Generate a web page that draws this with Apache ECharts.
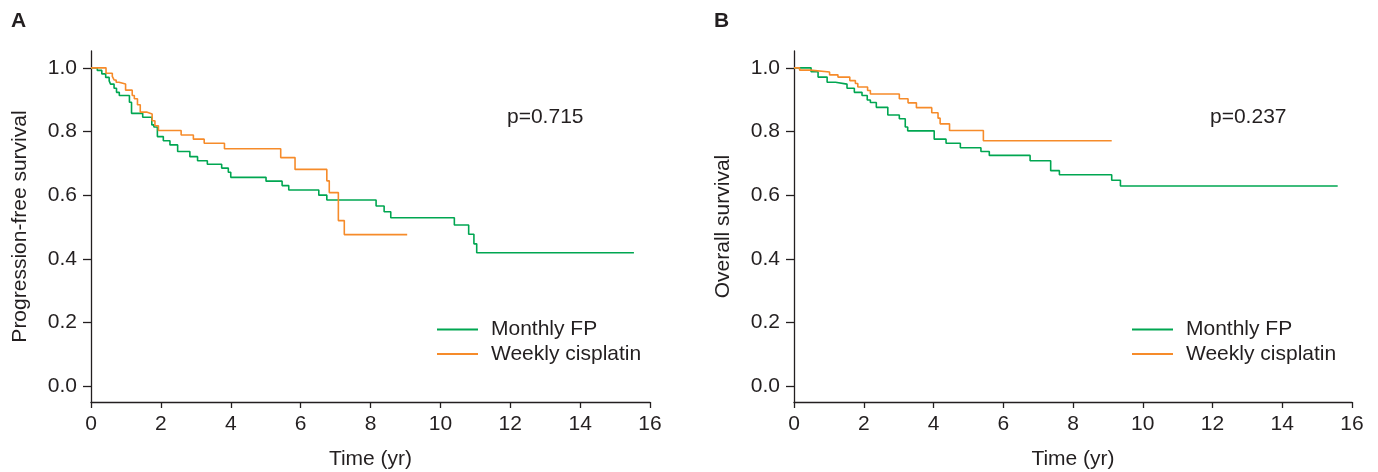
<!DOCTYPE html>
<html>
<head>
<meta charset="utf-8">
<script src="https://cdn.jsdelivr.net/npm/echarts@6/dist/echarts.min.js"></script>
<style>
    html, body { margin: 0; padding: 0; background: #fff; }
    #chart { width: 1378px; height: 472px; }
</style>
</head>
<body>
<div id="chart"></div>
<script>
/* data */
const seriesNames = ['Monthly FP', 'Weekly cisplatin'];
const yTicks = [0, 0.2, 0.4, 0.6, 0.8, 1.0];
const pValues = ['p=0.715', 'p=0.237'];

// A: progression-free survival
const pfsFpTime = [0, 0.18, 0.31, 0.42, 0.52, 0.56, 0.66, 0.73, 0.81, 1.10, 1.16, 1.48, 1.74, 1.80, 1.90, 2.07, 2.26, 2.48, 2.83, 3.05, 3.33, 3.74, 3.93, 4.00, 5.01, 5.47, 5.66, 6.52, 6.75, 8.16, 8.39, 8.58, 10.40, 10.81, 10.96, 11.04, 15.54];
const pfsFpSurv = [1.0, 0.992, 0.981, 0.970, 0.959, 0.949, 0.936, 0.923, 0.913, 0.892, 0.857, 0.845, 0.821, 0.814, 0.784, 0.771, 0.758, 0.737, 0.721, 0.708, 0.697, 0.685, 0.672, 0.656, 0.644, 0.630, 0.616, 0.600, 0.585, 0.566, 0.548, 0.529, 0.506, 0.477, 0.447, 0.419, 0.419];
const pfsCisTime = [0, 0.43, 0.61, 0.66, 0.72, 0.80, 0.99, 1.18, 1.24, 1.33, 1.41, 1.59, 1.75, 1.83, 1.93, 2.58, 2.93, 3.24, 3.82, 5.43, 5.84, 6.75, 6.82, 7.08, 7.25, 9.05];
const pfsCisSurv = [1.0, 0.983, 0.973, 0.962, 0.955, 0.949, 0.930, 0.913, 0.903, 0.884, 0.861, 0.855, 0.834, 0.818, 0.803, 0.789, 0.776, 0.763, 0.746, 0.718, 0.681, 0.645, 0.608, 0.520, 0.476, 0.476];

// B: overall survival
const osFpTime = [0, 0.49, 0.69, 0.95, 1.19, 1.52, 1.73, 1.95, 2.10, 2.19, 2.36, 2.69, 3.02, 3.19, 3.26, 4.02, 4.36, 4.77, 5.36, 5.60, 6.77, 7.36, 7.61, 9.11, 9.36, 15.59];
const osFpSurv = [1.0, 0.988, 0.971, 0.955, 0.949, 0.936, 0.923, 0.913, 0.899, 0.891, 0.876, 0.852, 0.840, 0.814, 0.802, 0.776, 0.763, 0.749, 0.737, 0.725, 0.708, 0.677, 0.664, 0.647, 0.629, 0.629];
const osCisTime = [0, 0.16, 0.47, 1.02, 1.26, 1.60, 1.76, 1.83, 2.11, 2.19, 3.02, 3.27, 3.51, 3.95, 4.13, 4.19, 4.46, 5.43, 9.11];
const osCisSurv = [1.0, 0.993, 0.987, 0.978, 0.971, 0.960, 0.951, 0.940, 0.929, 0.918, 0.903, 0.890, 0.875, 0.859, 0.842, 0.824, 0.803, 0.771, 0.771];

const GREEN = '#00a651';
const ORANGE = '#f68b2a';
const INK = '#231f20';
const FONT = '"Liberation Sans", Arial, sans-serif';
const FS = 21;

function pairs(t, s) {
    return t.map((x, i) => [x, s[i]]);
}

function xAxisFor(gridIndex) {
    return {
        type: 'value', gridIndex, min: 0, max: 16, interval: 2,
        name: 'Time (yr)', nameLocation: 'middle', nameGap: 47,
        nameTextStyle: { color: INK, fontSize: FS, fontFamily: FONT },
        splitLine: { show: false },
        axisLine: { onZero: false, lineStyle: { color: INK, width: 1.3 } },
        axisTick: { length: 6, lineStyle: { color: INK, width: 1.3 } },
        axisLabel: { color: INK, fontSize: FS, fontFamily: FONT, margin: 12 },
    };
}

function yAxisFor(gridIndex, name) {
    return {
        type: 'value', gridIndex, min: -0.05, max: 1.053,
        name, nameLocation: 'middle', nameGap: 60,
        nameTextStyle: { color: INK, fontSize: FS, fontFamily: FONT },
        splitLine: { show: false },
        axisLine: { onZero: false, lineStyle: { color: INK, width: 1.3 } },
        axisTick: { length: 8, customValues: yTicks, lineStyle: { color: INK, width: 1.3 } },
        axisLabel: {
            color: INK, fontSize: FS, fontFamily: FONT, margin: 14,
            customValues: yTicks, formatter: v => v.toFixed(1),
        },
    };
}

function stepSeries(name, color, idx, t, s) {
    return {
        type: 'line', name, step: 'end', xAxisIndex: idx, yAxisIndex: idx,
        symbol: 'none', silent: true, animation: false,
        lineStyle: { color, width: 1.6 }, itemStyle: { color },
        data: pairs(t, s),
    };
}

// plain line swatch in the legend, no dot
function legendFor(left) {
    return {
        left, top: 314, orient: 'vertical', icon: 'rect', itemWidth: 41, itemHeight: 2, itemGap: 3.5,
        data: seriesNames,
        textStyle: { color: INK, fontSize: FS, fontFamily: FONT, padding: [0, 0, 0, 8] },
        selectedMode: false,
    };
}

const chart = echarts.init(document.getElementById('chart'));
chart.setOption({
    backgroundColor: '#fff',
    animation: false,
    // keep the plot boxes fixed, names may sit near the page edge
    grid: [
        { left: 91, right: 728, top: 51, bottom: 70, outerBoundsMode: 'none' },
        { left: 794, right: 26, top: 51, bottom: 70, outerBoundsMode: 'none' },
    ],
    xAxis: [xAxisFor(0), xAxisFor(1)],
    yAxis: [yAxisFor(0, 'Progression-free survival'), yAxisFor(1, 'Overall survival')],
    legend: [legendFor(432), legendFor(1127)],
    series: [
        stepSeries(seriesNames[0], GREEN, 0, pfsFpTime, pfsFpSurv),
        stepSeries(seriesNames[1], ORANGE, 0, pfsCisTime, pfsCisSurv),
        stepSeries(seriesNames[0], GREEN, 1, osFpTime, osFpSurv),
        stepSeries(seriesNames[1], ORANGE, 1, osCisTime, osCisSurv),
    ],
    graphic: [
        { type: 'text', left: 11, top: 11, style: { text: 'A', fill: INK, font: 'bold 21px ' + FONT } },
        { type: 'text', left: 714, top: 11, style: { text: 'B', fill: INK, font: 'bold 21px ' + FONT } },
        { type: 'text', left: 507, top: 107, style: { text: pValues[0], fill: INK, font: FS + 'px ' + FONT } },
        { type: 'text', left: 1210, top: 107, style: { text: pValues[1], fill: INK, font: FS + 'px ' + FONT } },
    ],
});
</script>
</body>
</html>
